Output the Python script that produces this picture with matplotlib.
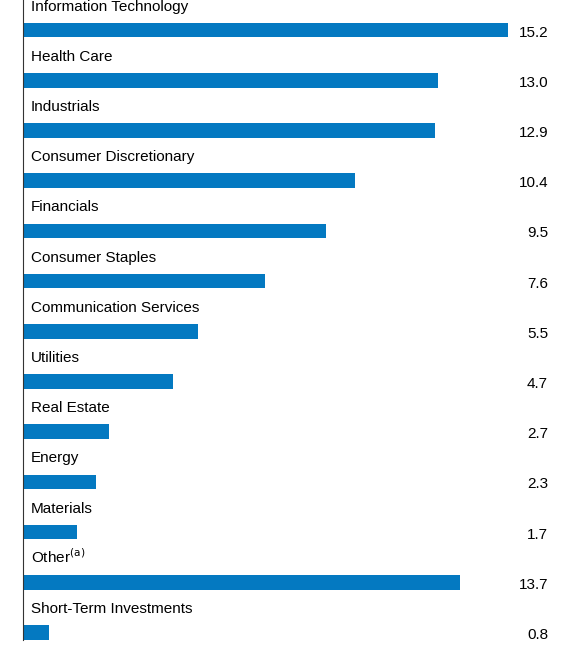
import matplotlib
matplotlib.use("Agg")
import matplotlib.pyplot as plt

categories = ["Information Technology", "Health Care", "Industrials", "Consumer Discretionary",
              "Financials", "Consumer Staples", "Communication Services", "Utilities",
              "Real Estate", "Energy", "Materials", "Other$^{\\rm (a)}$", "Short-Term Investments"]
values = [15.2, 13.0, 12.9, 10.4, 9.5, 7.6, 5.5, 4.7, 2.7, 2.3, 1.7, 13.7, 0.8]

plt.rcParams['font.family'] = ['Liberation Sans', 'DejaVu Sans']
fig = plt.figure(figsize=(5.73, 6.48), dpi=100)
ax = fig.add_axes([23/573, 8/648, 550/573, 640/648])
pos = list(range(len(values)))
ax.barh(pos, values, height=0.29, color="#0479C1", left=0)
for i, (c, v) in enumerate(zip(categories, values)):
    ax.text(0.25, i - 0.33, c, fontsize=11, va="bottom", ha="left", color="black")
    ax.text(16.46, i + 0.05, f"{v:.1f}", fontsize=11, va="center", ha="right", color="black")
ax.set_xlim(0, 550/31.9)
ax.set_ylim(12.15, -0.6)
for s in ["top", "right", "bottom"]:
    ax.spines[s].set_visible(False)
ax.spines["left"].set_color("#333333")
ax.set_xticks([]); ax.set_yticks([])
fig.savefig("out.png", dpi=100)
